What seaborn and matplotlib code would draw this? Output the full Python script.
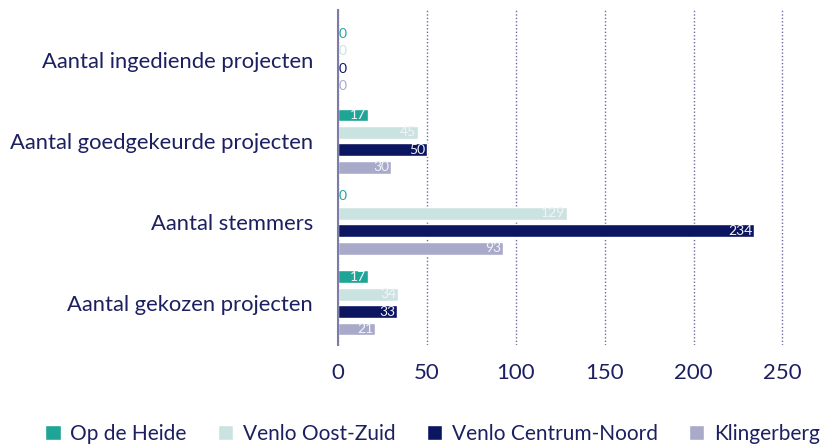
import matplotlib
matplotlib.use("Agg")
import matplotlib.pyplot as plt
import seaborn as sns
import pandas as pd

# data
categories = [
    "Aantal ingediende projecten",
    "Aantal goedgekeurde projecten",
    "Aantal stemmers",
    "Aantal gekozen projecten",
]
wijken = ["Op de Heide", "Venlo Oost-Zuid", "Venlo Centrum-Noord", "Klingerberg"]
op_de_heide = [0, 17, 0, 17]
venlo_oost_zuid = [0, 45, 129, 34]
venlo_centrum_noord = [0, 50, 234, 33]
klingerberg = [0, 30, 93, 21]
x_ticks = [0, 50, 100, 150, 200, 250]

colors = ["#1fa595", "#cbe3e0", "#0b1560", "#a9aac9"]
navy = "#1c2060"

rows = []
for wijk, vals in zip(wijken, [op_de_heide, venlo_oost_zuid, venlo_centrum_noord, klingerberg]):
    for cat, v in zip(categories, vals):
        rows.append({"categorie": cat, "wijk": wijk, "waarde": v})
df = pd.DataFrame(rows)

sns.set_theme(style="white")
plt.rcParams["font.family"] = ["Lato", "DejaVu Sans"]

fig = plt.figure(figsize=(8.29, 4.46), dpi=100)
ax = fig.add_axes([338 / 829, 1 - 345 / 446, (818 - 338) / 829, (345 - 10) / 446])

sns.barplot(
    data=df, y="categorie", x="waarde", hue="wijk", order=categories,
    hue_order=wijken, palette=colors, orient="h", width=0.86, gap=0.26,
    saturation=1, ax=ax, legend=True,
)

ax.set_xlim(0, 270)
ax.set_ylim(3.52, -0.62)
ax.set_xticks(x_ticks)
ax.set_xlabel("")
ax.set_ylabel("")

# vertical dotted grid
ax.grid(axis="x", color="#6a6a9e", linestyle=(0, (1, 1.5)), linewidth=1)
ax.grid(axis="y", visible=False)
ax.set_axisbelow(True)
for s in ["top", "right", "bottom"]:
    ax.spines[s].set_visible(False)
ax.spines["left"].set_color("#7d7ca8")
ax.spines["left"].set_linewidth(1.5)

ax.tick_params(axis="y", length=0, pad=18, labelsize=15.8, labelcolor=navy)
ax.tick_params(axis="x", length=7, width=1, color="#6a6a9e", pad=6,
               labelsize=16, labelcolor=navy)
for t in ax.xaxis.get_ticklines():
    t.set_linestyle(":")

# value labels
for cont, col in zip(ax.containers, colors):
    for p in cont.patches:
        w = p.get_width()
        yc = p.get_y() + p.get_height() / 2
        if w == 0:
            ax.text(0.6, yc, "0", ha="left", va="center", fontsize=10, color=col)
        else:
            ax.text(w - 1.0, yc, f"{w:.0f}", ha="right", va="center",
                    fontsize=10, color="#f2f3f8")

handles, labels = ax.get_legend_handles_labels()
ax.get_legend().remove()
fig.legend(handles, labels, loc="center left", bbox_to_anchor=(45 / 829, 1 - 434 / 446),
           ncol=4, frameon=False, fontsize=15, labelcolor=navy,
           handlelength=0.75, handleheight=0.75, handletextpad=0.45,
           columnspacing=1.5, borderaxespad=0, borderpad=0)

fig.savefig("out.png", dpi=100)
